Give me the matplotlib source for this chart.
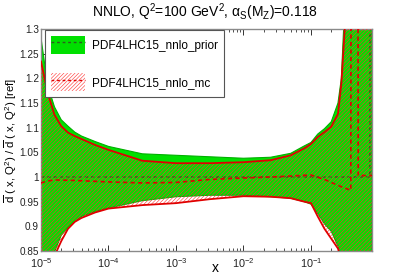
import numpy as np
import matplotlib
matplotlib.use("Agg")
import matplotlib.pyplot as plt
from matplotlib.patches import Patch
from matplotlib.lines import Line2D

plt.rcParams['font.family'] = ['Liberation Sans', 'DejaVu Sans']
plt.rcParams['mathtext.fontset'] = 'custom'
plt.rcParams['mathtext.rm'] = 'Liberation Sans'
plt.rcParams['mathtext.it'] = 'Liberation Sans:italic'
plt.rcParams['mathtext.bf'] = 'Liberation Sans:bold'
plt.rcParams['hatch.linewidth'] = 0.4

# ---- data (log10 x grid) ----
log_x = [-5, -4.9, -4.8, -4.7, -4.6, -4.5, -4.4, -4.2, -4.0, -3.5, -3.0, -2.5, -2.0,
         -1.6, -1.3, -1.1, -1.0, -0.9, -0.8, -0.7, -0.6, -0.55, -0.5, -0.45, -0.4,
         -0.3, -0.2, -0.096]
prior_up = [1.282, 1.185, 1.142, 1.116, 1.103, 1.091, 1.083, 1.072, 1.062, 1.047, 1.044,
            1.041, 1.038, 1.040, 1.048, 1.063, 1.070, 1.087, 1.098, 1.112, 1.15, 1.20,
            1.35, 1.5, 1.5, 1.5, 1.5, 1.5]
prior_lo = [0.72, 0.79, 0.848, 0.882, 0.897, 0.91, 0.92, 0.93, 0.937, 0.952, 0.96, 0.963,
            0.963, 0.96, 0.957, 0.95, 0.945, 0.926, 0.905, 0.89, 0.86, 0.83, 0.78, 0.7,
            0.6, 0.6, 0.6, 0.6]
mc_up = [1.234, 1.17, 1.126, 1.103, 1.09, 1.083, 1.077, 1.065, 1.055, 1.033, 1.028,
         1.028, 1.030, 1.034, 1.044, 1.058, 1.067, 1.081, 1.091, 1.102, 1.128, 1.19,
         1.30, 1.45, 1.5, 1.5, 1.5, 1.5]
mc_lo = [0.70, 0.77, 0.84, 0.87, 0.895, 0.909, 0.917, 0.928, 0.936, 0.943, 0.947, 0.955,
         0.961, 0.96, 0.957, 0.95, 0.947, 0.92, 0.895, 0.875, 0.855, 0.83, 0.78, 0.7,
         0.6, 0.6, 0.6, 0.6]

mc_c_log_x = [-5, -4.9, -4.8, -4.5, -4.0, -3.5, -3.0, -2.5, -2.0, -1.6, -1.3, -1.0,
              -0.8, -0.6, -0.41, -0.405, -0.305, -0.30, -0.096]
mc_central = [0.988, 0.992, 0.994, 0.993, 0.990, 0.988, 0.989, 0.995, 0.998, 1.0,
              1.002, 1.004, 0.995, 0.983, 0.973, 1.5, 1.5, 1.003, 1.003]
prior_c_log_x = [-5, -0.128, -0.124, -0.096]
prior_central = [1.0, 1.0, 1.5, 1.5]

ytick_vals = [0.85, 0.9, 0.95, 1.0, 1.05, 1.1, 1.15, 1.2, 1.25, 1.3]
ytick_labels = ['0.85', '0.9', '0.95', '1', '1.05', '1.1', '1.15', '1.2', '1.25', '1.3']
labels = ['PDF4LHC15_nnlo_prior', 'PDF4LHC15_nnlo_mc']

x = 10 ** np.array(log_x)
xmc = 10 ** np.array(mc_c_log_x)
xpr = 10 ** np.array(prior_c_log_x)

GREEN = '#00e000'
HATCH = '#ff3030'
RED = '#e00000'
DKG = '#2f5a1f'
HATCH_PAT = '/' * 9

fig = plt.figure(figsize=(4.13, 2.80), dpi=100)
ax = fig.add_axes([41/413, 1-251/280, 331/413, 222/280])
ax.set_axisbelow(True)

ax.fill_between(x, prior_lo, prior_up, facecolor=GREEN, edgecolor='#00b000', lw=0.8, zorder=1)
ax.plot(xpr, prior_central, color=DKG, lw=1.0, ls=(0, (2.5, 2)), zorder=2)
ax.fill_between(x, mc_lo, mc_up, facecolor='none', edgecolor=HATCH, hatch=HATCH_PAT, lw=0, zorder=3)
ax.plot(x, mc_up, color=RED, lw=1.3, zorder=4)
ax.plot(x, mc_lo, color=RED, lw=1.3, zorder=4)
ax.plot(xmc, mc_central, color=RED, lw=1.2, ls=(0, (2.5, 2)), zorder=4)

ax.set_xscale('log')
ax.set_xlim(1e-5, 10 ** -0.096)
ax.set_ylim(0.85, 1.3)
ax.set_yticks(ytick_vals)
ax.set_yticklabels(ytick_labels)
ax.tick_params(which='both', direction='in', top=True, right=True, colors='#333333',
               labelsize=7.8, labelcolor='#222222')
ax.tick_params(which='major', length=4.5, width=0.7, pad=2)
ax.tick_params(which='minor', length=2.3, width=0.6)
ax.tick_params(axis='x', pad=3.5)
ax.tick_params(axis='y', labelsize=7.2, pad=1.5)
for s in ax.spines.values():
    s.set_color('#8a8a8a')
    s.set_linewidth(1.0)

ax.set_xlabel('x', fontsize=10)
ax.xaxis.set_label_coords(0.526, -0.045)
ax.set_ylabel(r'$\overline{\mathrm{d}}$ ( x, Q$^{2}$) / $\overline{\mathrm{d}}$ ( x, Q$^{2}$) [ref]',
              fontsize=8.2)
ax.yaxis.set_label_coords(-0.067, 0.5)

fig.text(0.4976, 0.955, r'NNLO, Q$^{2}$=100 GeV$^{2}$, α$_{\mathrm{S}}$(M$_{\mathrm{Z}}$)=0.118',
         ha='center', va='center', fontsize=10)

h1 = (Patch(facecolor=GREEN, edgecolor='none'),
      Line2D([], [], color=DKG, lw=1.0, ls=(0, (2, 2))))
h2 = (Patch(facecolor='white', edgecolor=HATCH, hatch=HATCH_PAT, lw=0),
      Line2D([], [], color=RED, lw=1.0, ls=(0, (2, 2))))
leg = ax.legend([h1, h2], labels, loc='upper left', bbox_to_anchor=(0.012, 0.995),
                borderaxespad=0, fontsize=8.5, handlelength=2.9, handleheight=2.0,
                labelspacing=1.6, borderpad=0.5, handletextpad=0.6,
                fancybox=False, framealpha=1, edgecolor='#555555')
leg.get_frame().set_linewidth(0.8)
leg.set_zorder(10)

fig.savefig('out.png', dpi=100)
